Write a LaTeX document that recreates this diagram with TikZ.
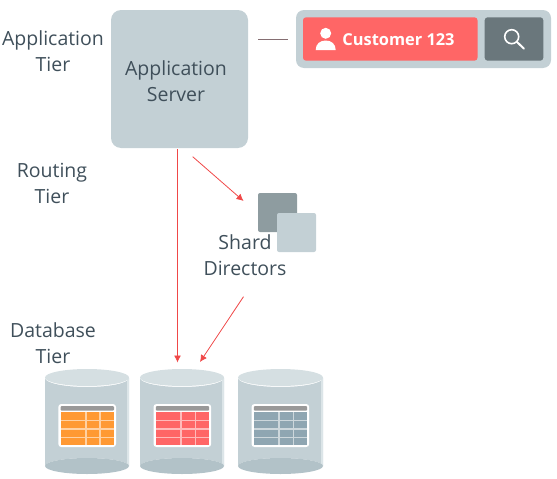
\documentclass[tikz,border=0pt]{standalone}
\usepackage{fontspec}
\setmainfont{Open Sans}
\definecolor{panel}{HTML}{C3D0D5}
\definecolor{cyltop}{HTML}{D5DFE2}
\definecolor{cylbot}{HTML}{B2C2C8}
\definecolor{cylside}{HTML}{DCE5E8}
\definecolor{darkbox}{HTML}{8E9CA0}
\definecolor{redfill}{HTML}{FF6666}
\definecolor{btn}{HTML}{6A777C}
\definecolor{txt}{HTML}{3F4F5A}
\definecolor{arrowred}{HTML}{F04848}
\definecolor{hdr}{HTML}{999999}
\definecolor{org}{HTML}{FF9933}
\definecolor{slate}{HTML}{8FA6B2}
\newcommand{\tbl}[2]{%
 \begin{scope}[shift={(#1,404)}]
  \fill[white,rounded corners=3pt] (0,0) rectangle (57.7,43);
  \fill[hdr,rounded corners=1pt] (2.3,2) rectangle (55.7,6.7);
  \fill[#2!45!white] (2.3,8.3) rectangle (55.7,41);
  \foreach \ya/\yb in {8.3/15.7,17/24.3,25.7/33,34.3/41}{
   \foreach \xa/\xb in {2.3/26.7,28.3/41,42.3/55.7}{
    \fill[#2] (\xa,\ya) rectangle (\xb,\yb);}}
 \end{scope}}
\newcommand{\cyl}[3]{%
 \begin{scope}[shift={(#1,0)}]
  \path[fill=panel] (0,378) -- (0,466) arc[x radius=#2/2,y radius=8,start angle=180,end angle=360] -- (#2,378) arc[x radius=#2/2,y radius=9,start angle=0,end angle=180] -- cycle;
  \fill[cylside] (#2-2,378) rectangle (#2,466);
  \fill[cylbot] (#2/2,466) ellipse[x radius=#2/2,y radius=8];
  \fill[cyltop] (#2/2,377.5) ellipse[x radius=#2/2,y radius=8.5];
 \end{scope}}
\tikzset{
 label text/.style={font=\fontsize{19.5}{26}\selectfont,text=txt,align=center,inner sep=0pt},
 server/.style={fill=panel,rounded corners=10pt,inner sep=0pt},
 squarebox/.style={rounded corners=2pt,inner sep=0pt,minimum size=39pt},
 redline/.style={draw=arrowred,line width=0.8pt},
 redarrow/.style={redline,-{Latex[length=7pt,width=7pt]}}
}
\usetikzlibrary{arrows.meta}
\begin{document}
\begin{tikzpicture}[x=1pt,y=-1pt]
\useasboundingbox (0,0) rectangle (557,479);
% Application server
\node[server,minimum width=137pt,minimum height=138pt] (app) at (179.5,79) {};
\node[label text] (apptext) at (176,81) {Application\\Server};
% Customer panel
\fill[panel,rounded corners=8pt] (296,10) rectangle (551,68);
\node[fill=redfill,rounded corners=3pt,minimum width=174.5pt,minimum height=43.4pt,inner sep=0pt] (cust) at (390.25,39) {};
\node[fill=btn,rounded corners=3pt,minimum width=58.6pt,minimum height=43.4pt,inner sep=0pt] (search) at (514,39) {};
\fill[white] (325.7,33.3) ellipse[x radius=5.5,y radius=5.5];
\fill[white] (315.7,50) .. controls (315.7,44) and (320,40.5) .. (325.7,40.5) .. controls (331.4,40.5) and (335.7,44) .. (335.7,50) -- cycle;
\node[font=\fontsize{16.4}{18}\selectfont\bfseries,text=white,inner sep=0pt] (custtext) at (398.5,39.5) {Customer 123};
\draw[white,line width=1.6pt] (511.7,36.7) circle[radius=7];
\draw[white,line width=2pt,line cap=round] (516.8,41.8) -- (524,48.7);
\coordinate (linea) at (258,39);
\coordinate (lineb) at (288,39);
\draw[draw=btn!80!arrowred,line width=0.7pt] (linea) -- (lineb);
% Labels
\node[label text] (t1) at (53,51) {Application\\Tier};
\node[label text] (t2) at (52,183) {Routing\\Tier};
\node[label text] (t3) at (53,343) {Database\\Tier};
% Shard directors
\node[squarebox,fill=darkbox] (sd1) at (277.5,212.5) {};
\node[squarebox,fill=panel] (sd2) at (296.5,232.5) {};
\node[label text] (sdtext) at (245,255) {Shard\\Directors};
% Cylinders
\cyl{45}{84}{}
\cyl{140}{84}{}
\cyl{238}{85}{}
\tbl{58.3}{org}
\tbl{153.5}{redfill}
\tbl{251.5}{slate}
% Arrows
\coordinate (a1s) at (177.5,149);
\coordinate (a1e) at (177.5,362.5);
\coordinate (a2s) at (192.7,156.7);
\coordinate (a2e) at (243.5,201);
\coordinate (a3s) at (243.5,296.7);
\coordinate (a3e) at (200,362);
\draw[redarrow] (a1s) -- (a1e);
\draw[redarrow] (a2s) -- (a2e);
\draw[redarrow] (a3s) -- (a3e);
\end{tikzpicture}
\end{document}
